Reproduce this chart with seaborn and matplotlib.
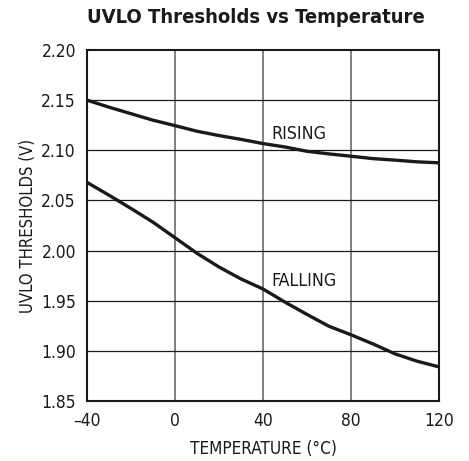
import matplotlib
matplotlib.use("Agg")
import matplotlib.pyplot as plt
import seaborn as sns
import pandas as pd

temps = [-40, -30, -20, -10, 0, 10, 20, 30, 40, 50, 60, 70, 80, 90, 100, 110, 120]
rising = [2.150, 2.143, 2.1365, 2.130, 2.1246, 2.119, 2.1147, 2.1109, 2.1067,
          2.1033, 2.0990, 2.0964, 2.0941, 2.0917, 2.0902, 2.0885, 2.0875]
falling = [2.068, 2.0552, 2.042, 2.0283, 2.0128, 1.9973, 1.9836, 1.9717, 1.9617,
           1.9486, 1.9363, 1.9245, 1.916, 1.9069, 1.897, 1.8897, 1.884]
x_ticks = [-40, 0, 40, 80, 120]
x_tick_labels = ["\u201340", "0", "40", "80", "120"]
y_ticks = [1.85, 1.90, 1.95, 2.00, 2.05, 2.10, 2.15, 2.20]

sns.set_theme(style="white")
plt.rcParams["font.family"] = ["DejaVu Sans"]
plt.rcParams["font.stretch"] = "condensed"

df = pd.concat([
    pd.DataFrame({"T": temps, "V": rising, "s": "RISING"}),
    pd.DataFrame({"T": temps, "V": falling, "s": "FALLING"}),
])

fig = plt.figure(figsize=(4.69, 4.61), dpi=100)
ax = fig.add_axes([0.1855, 0.1302, 0.7505, 0.7613])
sns.lineplot(data=df, x="T", y="V", units="s", estimator=None, color="#1a1a1a",
             linewidth=2.4, ax=ax, legend=False)

ax.set_xlim(-40, 120)
ax.set_ylim(1.85, 2.20)
ax.set_xticks(x_ticks)
ax.set_xticklabels(x_tick_labels)
ax.set_yticks(y_ticks)
ax.set_yticklabels([f"{v:.2f}" for v in y_ticks])
ax.tick_params(axis="both", length=0, labelsize=12.5, colors="#1a1a1a", pad=8)
for xv in x_ticks[1:-1]:
    ax.axvline(xv, color="#808080", linewidth=1.4, zorder=0)
for yv in y_ticks[1:-1]:
    ax.axhline(yv, color="#1a1a1a", linewidth=0.9, zorder=0)
for sp in ax.spines.values():
    sp.set_color("#1a1a1a")
    sp.set_linewidth(1.5)

ax.text(44, 2.116, "RISING", fontsize=12.8, va="center", ha="left", color="#1a1a1a")
ax.text(44, 1.970, "FALLING", fontsize=12.8, va="center", ha="left", color="#1a1a1a")

ax.set_xlabel("TEMPERATURE (\u00b0C)", fontsize=12.3, color="#1a1a1a", labelpad=7)
ax.set_ylabel("UVLO THRESHOLDS (V)", fontsize=12, color="#1a1a1a", labelpad=3)
fig.text(0.546, 0.962, "UVLO Thresholds vs Temperature", ha="center", va="center",
         fontsize=14.5, fontweight="bold", color="#1a1a1a")

fig.savefig("out.png", dpi=100)
